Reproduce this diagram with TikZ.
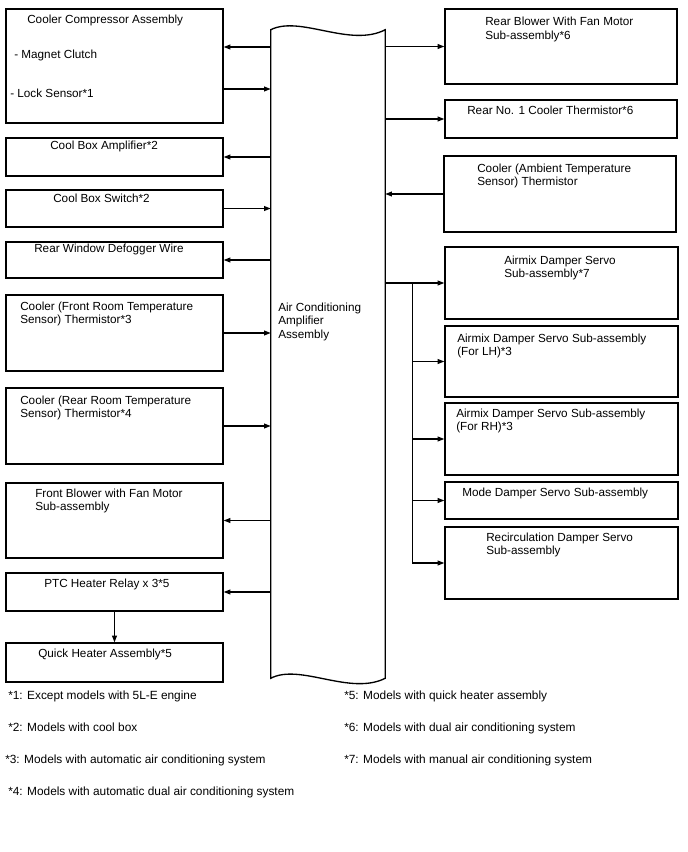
\documentclass[tikz,border=0pt]{standalone}
\usepackage{fontspec}
\setmainfont{Liberation Sans}
\usetikzlibrary{arrows.meta,positioning,fit}

\begin{document}
\begin{tikzpicture}[x=0.75pt, y=-0.75pt,
    unit/.style={draw, line width=1pt, inner sep=0pt},
    lbl/.style={anchor=north west, inner sep=0pt, align=left,
                font=\fontsize{8.8}{10.1}\selectfont},
    note/.style={anchor=north west, inner sep=0pt, font=\fontsize{8.9}{10.5}\selectfont},
    sig/.style={-{Triangle[length=5pt,width=3.6pt]}, line width=1pt}]
  \useasboundingbox (0,0) rectangle (688,852);

  % amplifier
  \node[inner sep=0pt, fit={(271,30) (385,678)}] (amp) {};
  \draw[line width=1pt] (amp.north west) .. controls (300,15) and (350,48) .. (amp.north east)
      -- (amp.south east) .. controls (350,696) and (300,663) .. (amp.south west) -- cycle;
  \node[lbl] (amp-t) at (278,302.5) {Air Conditioning\\Amplifier\\Assembly};

  % left side
  \node[unit, fit={(6,9) (223,123)}] (comp) {};
  \node[lbl] (comp-t) at (27,14.5) {Cooler Compressor Assembly};
  \node[lbl] (comp-mc) at (14,49.5) {- Magnet Clutch};
  \node[lbl] (comp-ls) at (10,88.5) {- Lock Sensor*1};
  \node[unit, fit={(6,138) (223,176)}] (cba) {};
  \node[lbl] (cba-t) at (50,140.5) {Cool Box Amplifier*2};
  \node[unit, fit={(6,190) (223,227)}] (cbs) {};
  \node[lbl] (cbs-t) at (53,193.5) {Cool Box Switch*2};
  \node[unit, fit={(6,242) (223,278)}] (rwd) {};
  \node[lbl] (rwd-t) at (34,243.5) {Rear Window Defogger Wire};
  \node[unit, fit={(6,295) (223,371)}] (frt) {};
  \node[lbl] (frt-t) at (20,301.5) {Cooler (Front Room Temperature\\Sensor) Thermistor*3};
  \node[unit, fit={(6,388) (223,464)}] (rrt) {};
  \node[lbl] (rrt-t) at (20,395.5) {Cooler (Rear Room Temperature\\Sensor) Thermistor*4};
  \node[unit, fit={(6,483) (223,558)}] (fbl) {};
  \node[lbl] (fbl-t) at (35,488.5) {Front Blower with Fan Motor\\Sub-assembly};
  \node[unit, fit={(6,573) (223,611)}] (ptc) {};
  \node[lbl] (ptc-t) at (44,578.5) {PTC Heater Relay x 3*5};
  \node[unit, fit={(6,643) (223,682)}] (qha) {};
  \node[lbl] (qha-t) at (38,648.5) {Quick Heater Assembly*5};

  % right side
  \node[unit, fit={(445,9) (677,84)}] (rbl) {};
  \node[lbl] (rbl-t) at (485,17) {Rear Blower With Fan Motor\\Sub-assembly*6};
  \node[unit, fit={(445,100) (677,138)}] (rct) {};
  \node[lbl] (rct-t) at (467,105.5) {Rear No. 1 Cooler Thermistor*6};
  \node[unit, fit={(444,156) (676,232)}] (amb) {};
  \node[lbl] (amb-t) at (477,163.5) {Cooler (Ambient Temperature\\Sensor) Thermistor};
  \node[unit, fit={(445,247) (678,319)}] (mix) {};
  \node[lbl] (mix-t) at (504,255.5) {Airmix Damper Servo\\Sub-assembly*7};
  \node[unit, fit={(445,326) (678,397)}] (mlh) {};
  \node[lbl] (mlh-t) at (457,333.5) {Airmix Damper Servo Sub-assembly\\(For LH)*3};
  \node[unit, fit={(445,403) (678,475)}] (mrh) {};
  \node[lbl] (mrh-t) at (456,408.5) {Airmix Damper Servo Sub-assembly\\(For RH)*3};
  \node[unit, fit={(445,482) (678,519)}] (mds) {};
  \node[lbl] (mds-t) at (462,487.5) {Mode Damper Servo Sub-assembly};
  \node[unit, fit={(445,527) (678,599)}] (rds) {};
  \node[lbl] (rds-t) at (486,532.5) {Recirculation Damper Servo\\Sub-assembly};

  % signals, left
  \coordinate (comp-out) at ([yshift=14.25pt]comp.east);
  \coordinate (comp-in) at ([yshift=-17.25pt]comp.east);
  \draw[sig] (amp.west |- comp-out) -- (comp-out);
  \draw[sig] (comp-in) -- (amp.west |- comp-in);
  \draw[sig] (amp.west |- cba.east) -- (cba.east);
  \draw[sig] (cbs.east) -- (amp.west |- cbs.east);
  \draw[sig] (amp.west |- rwd.east) -- (rwd.east);
  \draw[sig] (frt.east) -- (amp.west |- frt.east);
  \draw[sig] (rrt.east) -- (amp.west |- rrt.east);
  \draw[sig] (amp.west |- fbl.east) -- (fbl.east);
  \draw[sig] (amp.west |- ptc.east) -- (ptc.east);
  \draw[sig] (ptc) -- (qha);

  % signals, right
  \draw[sig] (amp.east |- rbl.west) -- (rbl.west);
  \draw[sig] (amp.east |- rct.west) -- (rct.west);
  \draw[sig] (amb.west) -- (amp.east |- amb.west);
  \draw[sig] (amp.east |- mix.west) -- (mix.west);
  \coordinate (bus) at ([xshift=-24pt]mix.west);
  \draw[sig] (bus) |- (rds.west);
  \foreach \n in {mlh,mrh,mds}
    \draw[sig] (bus |- \n.west) -- (\n.west);

  % notes
  \node[note] (n1) at (8,691) {*1: Except models with 5L-E engine};
  \node[note] (n2) at (8,723) {*2: Models with cool box};
  \node[note] (n3) at (5,755) {*3: Models with automatic air conditioning system};
  \node[note] (n4) at (8,787) {*4: Models with automatic dual air conditioning system};
  \node[note] (n5) at (344,691) {*5: Models with quick heater assembly};
  \node[note] (n6) at (344,723) {*6: Models with dual air conditioning system};
  \node[note] (n7) at (344,755) {*7: Models with manual air conditioning system};
\end{tikzpicture}
\end{document}
